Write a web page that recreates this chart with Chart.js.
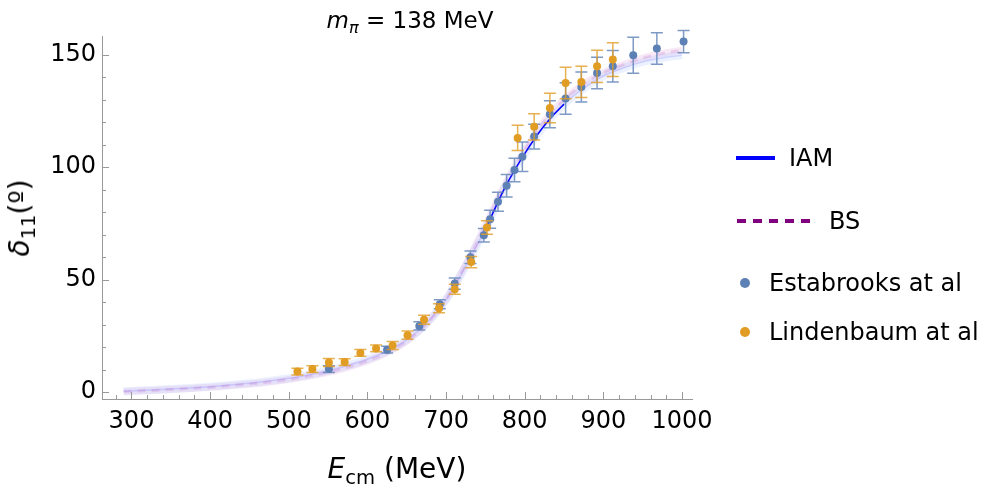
<!DOCTYPE html>
<html>
<head>
<meta charset="utf-8">
<script src="https://cdn.jsdelivr.net/npm/chart.js@4.4.0/dist/chart.umd.min.js"></script>
<style>
    html, body { margin: 0; padding: 0; background: #fff; }
    #wrap { position: relative; width: 996px; height: 487px; font-family: "DejaVu Sans", sans-serif; color: #000; }
    #wrap canvas { position: absolute; left: 0; top: 0; }
    .txt { position: absolute; white-space: nowrap; line-height: 1; }
    .txt sub { font-size: 0.7em; vertical-align: -0.3em; line-height: 0; }
    .legend-item { position: absolute; display: flex; align-items: center; font-size: 24px; line-height: 1; white-space: nowrap; }
    .legend-item svg { display: block; }
</style>
</head>
<body>
<div id="wrap">
    <canvas id="phaseChart" width="996" height="487"></canvas>

    <div class="txt" id="title" style="font-size:23px; left:410px; top:9px; transform:translateX(-50%);"><i>m</i><sub><i>π</i></sub> = 138 MeV</div>
    <div class="txt" id="yTitle" style="font-size:28px; left:20px; top:218px; transform:translate(-50%,-50%) rotate(-90deg);"><i>δ</i><sub>11</sub>(º)</div>
    <div class="txt" id="xTitle" style="font-size:28px; left:397px; top:455px; transform:translateX(-50%);"><i>E</i><sub>cm</sub> (MeV)</div>

    <div class="legend-item" style="left:736px; top:145px;">
        <svg width="40" height="26"><line x1="0" y1="13" x2="39" y2="13" stroke="#0000ff" stroke-width="4"/></svg>
        <span style="margin-left:13px;">IAM</span>
    </div>
    <div class="legend-item" style="left:737px; top:208px;">
        <svg width="74" height="26"><line x1="0" y1="13" x2="73" y2="13" stroke="#800080" stroke-width="4" stroke-dasharray="9,7"/></svg>
        <span style="margin-left:18px;">BS</span>
    </div>
    <div class="legend-item" style="left:740px; top:270px;">
        <svg width="10" height="26"><circle cx="5" cy="13" r="5" fill="#5e81b5"/></svg>
        <span style="margin-left:19px;">Estabrooks at al</span>
    </div>
    <div class="legend-item" style="left:740px; top:319px;">
        <svg width="10" height="26"><circle cx="5" cy="13" r="5" fill="#e19c24"/></svg>
        <span style="margin-left:19px;">Lindenbaum at al</span>
    </div>
</div>

<script>
// theory curves (MeV -> degrees)
const curveEnergy = [290, 300, 325, 350, 375, 400, 425, 450, 475, 500, 525, 550, 575, 600, 625, 650, 675, 700, 725, 750, 775, 800, 825, 850, 875, 900, 925, 950, 975, 1000];
const iamPhase = [0.3, 0.5, 0.9, 1.3, 1.8, 2.4, 3.1, 3.9, 4.9, 6.1, 7.6, 9.5, 11.8, 14.6, 18.2, 23.2, 30.5, 41, 56, 72.5, 91, 106, 118.5, 128, 135, 140.5, 144, 146.8, 148.5, 149.8];
const bsPhase = [0.2, 0.4, 0.7, 1.1, 1.6, 2.1, 2.8, 3.6, 4.5, 5.6, 7.0, 8.8, 11.0, 13.8, 17.5, 22.6, 30.2, 41.2, 56.8, 74, 92.5, 107.5, 120.5, 130, 137, 142, 145.5, 148.5, 150.5, 152];

// experimental data
const estabrooksE = [551, 625, 666, 692, 711, 731, 748, 756, 766, 777, 787, 797, 812, 832, 852, 872, 892, 912, 938, 968, 1002];
const estabrooksPhase = [10.2, 18.8, 29.4, 39, 48.2, 59.9, 69.7, 76.8, 84.6, 91.7, 98.7, 104.6, 113.6, 123.5, 130.5, 135.6, 141.9, 144.8, 149.7, 152.7, 155.8];
const estabrooksErr = [1.5, 1.5, 1.8, 2, 2.5, 2.8, 3, 4, 4.2, 5, 5.2, 6.6, 5.5, 6, 7, 6.7, 7, 7, 8, 7, 5];

const lindenbaumE = [511, 530, 551, 571, 591, 611, 632, 651, 672, 691, 711, 732, 752, 791, 812, 832, 852, 872, 892, 912];
const lindenbaumPhase = [9.1, 10.2, 13.1, 13.3, 17.4, 19.4, 20.7, 25.3, 32.1, 37.3, 45.7, 57.8, 73.2, 113, 117.9, 126.3, 137.4, 137.9, 144.8, 147.8];
const lindenbaumErr = [1.5, 1.5, 1.8, 1.5, 1.5, 1.5, 1.8, 1.8, 2, 2, 2.2, 2.5, 3, 5.6, 5.8, 6.6, 7, 6.9, 7.2, 7.5];

const xTicks = [300, 400, 500, 600, 700, 800, 900, 1000];
const yTicks = [0, 50, 100, 150];

const toPoints = (xs, ys) => xs.map((x, i) => ({ x, y: ys[i] }));

// error bars drawn just before the points of their dataset
const errorBars = {
    id: 'errorBars',
    beforeDatasetDraw(chart, args) {
        const ds = chart.data.datasets[args.index];
        if (!ds.errors) return;
        const { ctx } = chart;
        const { x, y } = chart.scales;
        ctx.save();
        ctx.strokeStyle = ds.errorColor;
        ctx.lineWidth = 1.5;
        ds.data.forEach((p, i) => {
            const px = x.getPixelForValue(p.x);
            const top = y.getPixelForValue(p.y + ds.errors[i]);
            const bot = y.getPixelForValue(p.y - ds.errors[i]);
            ctx.beginPath();
            ctx.moveTo(px, top); ctx.lineTo(px, bot);
            ctx.moveTo(px - 6, top); ctx.lineTo(px + 6, top);
            ctx.moveTo(px - 6, bot); ctx.lineTo(px + 6, bot);
            ctx.stroke();
        });
        ctx.restore();
    }
};

// tick marks pointing into the plot, Mathematica style
const innerTicks = {
    id: 'innerTicks',
    afterDraw(chart) {
        const { ctx, chartArea } = chart;
        const { x, y } = chart.scales;
        ctx.save();
        ctx.strokeStyle = '#999';
        ctx.lineWidth = 1;
        ctx.beginPath();
        for (let v = 280; v <= 1000; v += 20) {
            const px = Math.round(x.getPixelForValue(v)) + 0.5;
            const len = v % 100 === 0 ? 7 : 4;
            ctx.moveTo(px, chartArea.bottom);
            ctx.lineTo(px, chartArea.bottom - len);
        }
        for (let v = 0; v <= 150; v += 10) {
            const py = Math.round(y.getPixelForValue(v)) + 0.5;
            const len = v % 50 === 0 ? 7 : 4;
            ctx.moveTo(chartArea.left, py);
            ctx.lineTo(chartArea.left + len, py);
        }
        ctx.stroke();
        ctx.restore();
    }
};

Chart.defaults.font.family = '"DejaVu Sans", sans-serif';

new Chart(document.getElementById('phaseChart'), {
    type: 'scatter',
    data: {
        datasets: [
            {
                label: 'Lindenbaum at al',
                data: toPoints(lindenbaumE, lindenbaumPhase),
                errors: lindenbaumErr,
                errorColor: 'rgba(225, 156, 36, 0.8)',
                backgroundColor: '#e19c24',
                borderWidth: 0,
                pointRadius: 4
            },
            {
                label: 'Estabrooks at al',
                data: toPoints(estabrooksE, estabrooksPhase),
                errors: estabrooksErr,
                errorColor: 'rgba(94, 129, 181, 0.8)',
                backgroundColor: '#5e81b5',
                borderWidth: 0,
                pointRadius: 4
            },
            {
                label: 'IAM',
                data: toPoints(curveEnergy, iamPhase),
                showLine: true,
                pointRadius: 0,
                borderWidth: 1.5,
                cubicInterpolationMode: 'monotone',
                segment: {
                    borderColor: c => (c.p0.parsed.x >= 750 && c.p0.parsed.x < 850) ? '#0000ff' : 'rgba(0, 0, 255, 0.12)'
                }
            },
            {
                label: 'BS',
                data: toPoints(curveEnergy, bsPhase),
                showLine: true,
                pointRadius: 0,
                borderWidth: 3,
                borderDash: [8, 6],
                borderColor: 'rgba(190, 90, 190, 0.2)',
                cubicInterpolationMode: 'monotone'
            },
            {
                label: 'IAM band',
                data: toPoints(curveEnergy, iamPhase),
                showLine: true,
                pointRadius: 0,
                borderWidth: 8,
                borderColor: 'rgba(130, 170, 255, 0.16)',
                cubicInterpolationMode: 'monotone'
            },
            {
                label: 'BS band',
                data: toPoints(curveEnergy, bsPhase),
                showLine: true,
                pointRadius: 0,
                borderWidth: 7,
                borderColor: 'rgba(225, 170, 220, 0.25)',
                cubicInterpolationMode: 'monotone'
            }
        ]
    },
    options: {
        responsive: false,
        animation: false,
        layout: { padding: { top: 36, right: 304, bottom: 0, left: 0 } },
        plugins: {
            legend: { display: false },
            tooltip: { enabled: false }
        },
        scales: {
            x: {
                type: 'linear',
                min: 262.5,
                max: 1012.7,
                afterBuildTicks: scale => { scale.ticks = xTicks.map(v => ({ value: v })); },
                afterFit: scale => { scale.height = 88; },
                grid: { display: false, drawTicks: false },
                border: { color: '#999', width: 1 },
                ticks: { color: '#000', font: { size: 24 }, padding: 8, maxRotation: 0, callback: v => String(v) }
            },
            y: {
                type: 'linear',
                min: -3.1,
                max: 158.3,
                afterBuildTicks: scale => { scale.ticks = yTicks.map(v => ({ value: v })); },
                afterFit: scale => { scale.width = 102; },
                grid: { display: false, drawTicks: false },
                border: { color: '#999', width: 1 },
                ticks: { color: '#000', font: { size: 24 }, padding: 6, callback: v => String(v) }
            }
        }
    },
    plugins: [errorBars, innerTicks]
});
</script>
</body>
</html>
